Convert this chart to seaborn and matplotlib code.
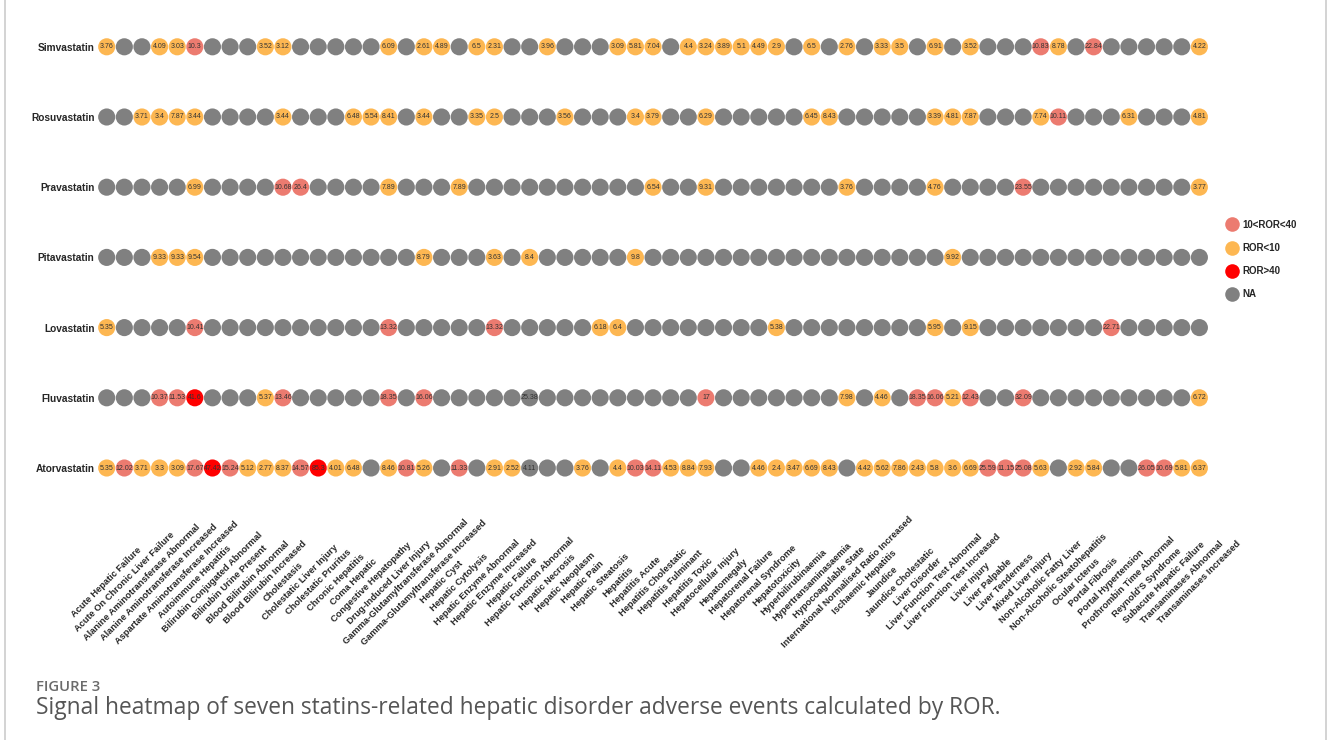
import matplotlib
matplotlib.use("Agg")
import matplotlib.pyplot as plt
import seaborn as sns
import pandas as pd
from matplotlib.lines import Line2D

N = None

events = [
    "Acute Hepatic Failure", "Acute On Chronic Liver Failure", "Alanine Aminotransferase Abnormal",
    "Alanine Aminotransferase Increased", "Aspartate Aminotransferase Increased", "Autoimmune Hepatitis",
    "Bilirubin Conjugated Abnormal", "Bilirubin Urine Present", "Blood Bilirubin Abnormal",
    "Blood Bilirubin Increased", "Cholestasis", "Cholestatic Liver Injury", "Cholestatic Pruritus",
    "Chronic Hepatitis", "Coma Hepatic", "Congestive Hepatopathy", "Drug-Induced Liver Injury",
    "Gamma-Glutamyltransferase Abnormal", "Gamma-Glutamyltransferase Increased", "Hepatic Cyst",
    "Hepatic Cytolysis", "Hepatic Enzyme Abnormal", "Hepatic Enzyme Increased", "Hepatic Failure",
    "Hepatic Function Abnormal", "Hepatic Necrosis", "Hepatic Neoplasm", "Hepatic Pain",
    "Hepatic Steatosis", "Hepatitis", "Hepatitis Acute", "Hepatitis Cholestatic", "Hepatitis Fulminant",
    "Hepatitis Toxic", "Hepatocellular Injury", "Hepatomegaly", "Hepatorenal Failure",
    "Hepatorenal Syndrome", "Hepatotoxicity", "Hyperbilirubinaemia", "Hypertransaminasaemia",
    "Hypocoagulable State", "International Normalised Ratio Increased", "Ischaemic Hepatitis",
    "Jaundice", "Jaundice Cholestatic", "Liver Disorder", "Liver Function Test Abnormal",
    "Liver Function Test Increased", "Liver Injury", "Liver Palpable", "Liver Tenderness",
    "Mixed Liver Injury", "Non-Alcoholic Fatty Liver", "Non-Alcoholic Steatohepatitis",
    "Ocular Icterus", "Portal Fibrosis", "Portal Hypertension", "Prothrombin Time Abnormal",
    "Reynold'S Syndrome", "Subacute Hepatic Failure", "Transaminases Abnormal",
    "Transaminases Increased",
]

drugs = ["Simvastatin", "Rosuvastatin", "Pravastatin", "Pitavastatin",
         "Lovastatin", "Fluvastatin", "Atorvastatin"]

simvastatin = [3.76, N, N, 4.09, 3.03, 10.3, N, N, N, 3.52,
               3.12, N, N, N, N, N, 6.09, N, 2.61, 4.89,
               N, 6.5, 2.31, N, N, 3.96, N, N, N, 3.09,
               5.81, 7.04, N, 4.4, 3.24, 3.89, 5.1, 4.49, 2.9, N,
               6.5, N, 2.76, N, 3.33, 3.5, N, 6.91, N, 3.52,
               N, N, N, 10.83, 8.78, N, 22.84, N, N, N,
               N, N, 4.22]
rosuvastatin = [N, N, 3.71, 3.4, 7.87, 3.44, N, N, N, N,
                3.44, N, N, N, 6.48, 5.54, 8.41, N, 3.44, N,
                N, 3.35, 2.5, N, N, N, 3.56, N, N, N,
                3.4, 3.79, N, N, 6.29, N, N, N, N, N,
                6.45, 8.43, N, N, N, N, N, 3.39, 4.81, 7.87,
                N, N, N, 7.74, 10.11, N, N, N, 6.31, N,
                N, N, 4.81]
pravastatin = [N, N, N, N, N, 6.99, N, N, N, N,
               10.68, 26.4, N, N, N, N, 7.89, N, N, N,
               7.89, N, N, N, N, N, N, N, N, N,
               N, 6.54, N, N, 9.31, N, N, N, N, N,
               N, N, 3.76, N, N, N, N, 4.76, N, N,
               N, N, 23.55, N, N, N, N, N, N, N,
               N, N, 3.77]
pitavastatin = [N, N, N, 9.33, 9.33, 9.54, N, N, N, N,
                N, N, N, N, N, N, N, N, 8.79, N,
                N, N, 3.63, N, 8.4, N, N, N, N, N,
                9.8, N, N, N, N, N, N, N, N, N,
                N, N, N, N, N, N, N, N, 9.92, N,
                N, N, N, N, N, N, N, N, N, N,
                N, N, N]
lovastatin = [5.35, N, N, N, N, 10.41, N, N, N, N,
              N, N, N, N, N, N, 13.32, N, N, N,
              N, N, 13.32, N, N, N, N, N, 6.18, 6.4,
              N, N, N, N, N, N, N, N, 5.38, N,
              N, N, N, N, N, N, N, 5.95, N, 9.15,
              N, N, N, N, N, N, N, 22.71, N, N,
              N, N, N]
fluvastatin = [N, N, N, 10.37, 11.53, 41.6, N, N, N, 5.37,
               13.46, N, N, N, N, N, 18.35, N, 16.06, N,
               N, N, N, N, 25.38, N, N, N, N, N,
               N, N, N, N, 17, N, N, N, N, N,
               N, N, 7.98, N, 4.46, N, 18.35, 16.06, 5.21, 12.43,
               N, N, 32.09, N, N, N, N, N, N, N,
               N, N, 6.72]
atorvastatin = [5.35, 12.02, 3.71, 3.3, 3.09, 17.67, 47.42, 15.24, 5.12, 2.77,
                8.37, 14.57, 85.3, 4.01, 6.48, N, 8.46, 10.81, 5.26, N,
                11.33, N, 2.91, 2.52, 4.11, N, N, 3.76, N, 4.4,
                10.03, 14.11, 4.53, 8.84, 7.93, N, N, 4.46, 2.4, 3.47,
                6.69, 8.43, N, 4.42, 5.62, 7.86, 2.43, 5.8, 3.6, 6.69,
                25.59, 11.15, 25.08, 5.63, N, 2.92, 5.84, N, N, 26.05,
                10.69, 5.81, 6.37]

# cells that carry a label but are drawn in the NA colour in the original
unclassified_cells = [("Fluvastatin", "Hepatic Function Abnormal"),
                      ("Atorvastatin", "Hepatic Function Abnormal")]

categories = ["10<ROR<40", "ROR<10", "ROR>40", "NA"]
palette = {"10<ROR<40": "#EC7B70", "ROR<10": "#FDB752",
           "ROR>40": "#FF0000", "NA": "#808080"}

values = {"Simvastatin": simvastatin, "Rosuvastatin": rosuvastatin,
          "Pravastatin": pravastatin, "Pitavastatin": pitavastatin,
          "Lovastatin": lovastatin, "Fluvastatin": fluvastatin,
          "Atorvastatin": atorvastatin}


def classify(drug, event, v):
    if v is None or (drug, event) in unclassified_cells:
        return "NA"
    if v > 40:
        return "ROR>40"
    if v > 10:
        return "10<ROR<40"
    return "ROR<10"


records = []
for r, drug in enumerate(drugs):
    for c, ev in enumerate(events):
        v = values[drug][c]
        records.append({"drug": drug, "event": ev, "xi": c,
                        "yi": len(drugs) - 1 - r, "ror": v,
                        "cat": classify(drug, ev, v)})
df = pd.DataFrame(records)

sns.set_style("white")
plt.rcParams["font.family"] = ["Liberation Sans", "DejaVu Sans"]

W, H = 1328, 740
fig = plt.figure(figsize=(W / 100, H / 100), dpi=100)
ax = fig.add_axes([97.9 / W, 1 - 503.1 / H, 1110.3 / W, 491.4 / H])

sns.scatterplot(data=df, x="xi", y="yi", hue="cat", hue_order=categories,
                palette=palette, s=152, linewidth=0, ax=ax, legend=True)

for _, row in df.iterrows():
    if row["ror"] is not None and pd.notna(row["ror"]):
        ax.text(row["xi"], row["yi"], f"{row['ror']:g}", ha="center", va="center",
                fontsize=5, color="#333333")

ax.set_xlim(-0.5, len(events) - 0.5)
ax.set_ylim(-0.5, len(drugs) - 0.5)
ax.set_xticks(range(len(events)))
ax.set_xticklabels(events, rotation=45, ha="center", va="center",
                   fontsize=6.7, fontweight="bold")
ax.set_yticks(range(len(drugs)))
ax.set_yticklabels(drugs[::-1], fontsize=7.3, fontweight="bold")
ax.tick_params(axis="x", length=0, pad=57)
ax.tick_params(axis="y", length=0, pad=2.5)
ax.set_xlabel("")
ax.set_ylabel("")
for sp in ax.spines.values():
    sp.set_visible(False)

handles = [Line2D([0], [0], marker="o", linestyle="", markersize=10.5,
                  markerfacecolor=palette[c], markeredgewidth=0) for c in categories]
ax.legend(handles, categories, loc="center left",
          bbox_to_anchor=(1220 / W, 1 - 259.5 / H), bbox_transform=fig.transFigure,
          frameon=False, prop={"weight": "bold", "size": 7},
          handlelength=1.0, handletextpad=0.6, labelspacing=1.35, borderpad=0.2)

fig.text(36 / W, 1 - 687 / H, "FIGURE 3", fontsize=10.7, color="#6b6b6b",
         fontweight="semibold", family=["Open Sans", "DejaVu Sans"], va="center")
fig.text(36 / W, 1 - 708 / H,
         "Signal heatmap of seven statins-related hepatic disorder adverse events calculated by ROR.",
         fontsize=16.4, color="#555555", family=["Open Sans", "DejaVu Sans"], va="center")

fig.add_artist(Line2D([4.5 / W, 4.5 / W], [0, 1], color="#cccccc", lw=1.2,
                      transform=fig.transFigure))
fig.add_artist(Line2D([1326 / W, 1326 / W], [0, 1], color="#cccccc", lw=1.2,
                      transform=fig.transFigure))

fig.savefig("out.png", dpi=100)
